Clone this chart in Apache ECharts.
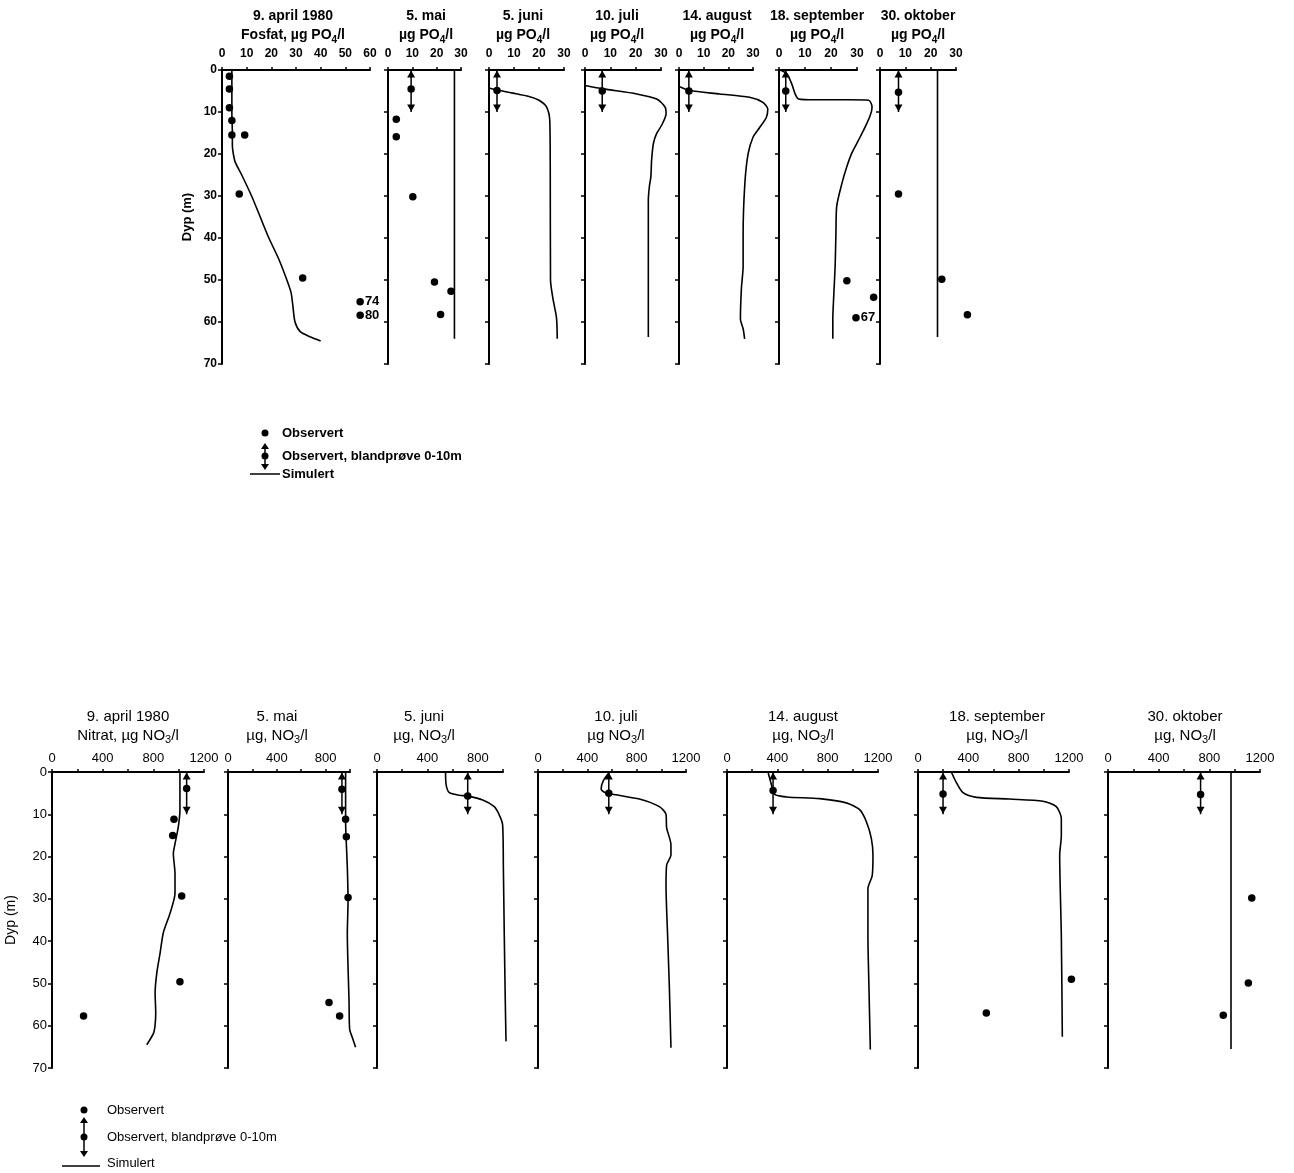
<!DOCTYPE html>
<html><head><meta charset="utf-8">
<script src="https://cdn.jsdelivr.net/npm/echarts@6/dist/echarts.min.js"></script>
<style>html,body{margin:0;padding:0;background:#fff}#c{width:1294px;height:1173px}</style>
</head><body><div id="c"></div><script>
// ---------------- DATA ----------------
const depthTicks = [0, 10, 20, 30, 40, 50, 60, 70];

// Fosfat (top row)
const phosDates = ['9. april 1980', '5. mai', '5. juni', '10. juli', '14. august', '18. september', '30. oktober'];
const phosUnitPrefix = ['Fosfat, µg PO', 'µg PO', 'µg PO', 'µg PO', 'µg PO', 'µg PO', 'µg PO'];
const phosXMax = [60, 30, 30, 30, 30, 30, 30];

const pAprSim = [[4,0],[4,5],[4,10],[4.2,15],[4.2,18],[4.6,20],[5.4,22],[8,25],[12,30],[15.5,35],[19,40],[23,45],[26.3,50],[28,53],[28.7,56],[29.6,60],[31.7,62.3],[35.7,63.5],[40,64.5]];
const pAprObs = [[3,1.5],[3,4.5],[3,9],[4,12],[4,15.5],[9.2,15.5],[7,29.5],[32.7,49.5]];
const pAprOff = [[56,55.2,'74'],[56,58.4,'80']];

const pMaiSim = [[27.3,0],[27.3,64]];
const pMaiObs = [[3.4,11.7],[3.4,15.9],[10.2,30.2],[19.1,50.5],[25.9,52.7],[21.6,58.2]];

const pJunSim = [[0,4.3],[4.3,4.9],[9.6,5.5],[16,6.3],[20,7.2],[23,8.8],[24.3,12],[24.5,23],[24.6,50],[25.6,54.5],[27,59],[27.3,64]];
const pJunObs = [];

const pJulSim = [[0,3.7],[7.2,4.5],[20.4,5.7],[28.3,6.9],[31.6,8.8],[32,10.4],[30.3,13.1],[28.3,15.1],[27,17.5],[26.3,21.4],[26,25.4],[25.4,27.8],[25,31],[25,45],[25,63.6]];
const pJulObs = [];

const pAugSim = [[0,3.9],[4.3,4.9],[16.5,5.7],[28.6,6.5],[34,7.7],[36,9.3],[35.4,11.3],[32.7,13.7],[30,16],[28,20],[26.7,27],[26,38.8],[26,46.7],[25.3,52],[24.9,59.3],[26,61.6],[26.6,64]];
const pAugObs = [];

const pSepSim = [[0.4,0],[3,0.9],[4.9,3.3],[6.2,5.7],[7.5,6.9],[13.9,7.1],[26.8,7.1],[34.5,7.2],[35.8,8.8],[35.1,10.8],[33.2,13.5],[30.6,16.7],[28,19.8],[26.1,23],[24.2,27],[22.2,32.4],[21.9,38.7],[21.6,46.6],[21,54.5],[20.7,59.2],[20.7,64]];
const pSepObs = [[26.1,50.2],[36.4,54.1]];
const pSepOff = [[29.6,59,'67']];

const pOktSim = [[22.7,0],[22.7,63.6]];
const pOktObs = [[7.3,29.5],[24.4,49.8],[34.5,58.3]];

// blandprøve 0-10 m: [value, depth of dot]
const phosMix = [null, [9.5,4.5], [3.2,4.9], [6.8,5], [4,5], [2.6,5], [7.3,5.3]];

// Nitrat (bottom row)
const nitDates = ['9. april 1980', '5. mai', '5. juni', '10. juli', '14. august', '18. september', '30. oktober'];
const nitUnitPrefix = ['Nitrat, µg NO', 'µg, NO', 'µg, NO', 'µg NO', 'µg, NO', 'µg, NO', 'µg, NO'];
const nitXMax = [1200, 1000, 1000, 1200, 1200, 1200, 1200];

const nAprSim = [[1010,0],[1010,9],[997,13],[971,17],[958,19.3],[971,24],[971,28.7],[932,33.4],[879,38],[853,42.9],[827,47.6],[814,52.3],[819,57],[814,59.8],[801,61.8],[748,64.5]];
const nAprObs = [[963,11.2],[953,15],[1024,29.3],[1010,49.6],[249,57.7]];

const nMaiSim = [[964,0],[964,11.4],[978,22.5],[984,30.4],[978,38.3],[984,46.2],[992,54],[997,60.8],[1019,62.8],[1046,65.1]];
const nMaiObs = [[964,11.2],[970,15.3],[984,29.7],[828,54.5],[915,57.7]];

const nJunSim = [[544,0],[549,3.1],[575,4.9],[654,5.5],[720,5.7],[839,6.6],[931,8.2],[971,10.2],[997,12.5],[1003,22.7],[1010,38.3],[1018,54],[1024,63.7]];
const nJunObs = [];

const nJulSim = [[580,0],[531,2],[512,4],[539,4.8],[633,5.4],[822,6.4],[984,8.2],[1038,10],[1043,13.2],[1078,17.2],[1078,19.6],[1043,22],[1038,26.8],[1051,38.8],[1065,50.8],[1078,65.2]];
const nJulObs = [];

const nAugSim = [[326,0],[352,2.9],[379,5.3],[472,5.9],[736,6.3],[948,7.3],[1054,8.9],[1107,11.7],[1147,15.7],[1160,19.7],[1154,24.5],[1120,27.6],[1120,38.8],[1128,50.8],[1139,65.6]];
const nAugObs = [];

const nSepSim = [[265,0],[305,2.5],[358,4.9],[464,6],[728,6.4],[993,6.9],[1099,8.2],[1139,11],[1139,15],[1126,19.7],[1139,38.6],[1147,62.6]];
const nSepObs = [[1219,49],[543,57]];

const nOktSim = [[971,0],[971,65.5]];
const nOktObs = [[1135,29.8],[1108,49.9],[910,57.5]];

const nitMix = [[1063,3.9],[934,4.1],[720,5.7],[574,5],[366,4.4],[199,5.2],[731,5.3]];

const phosSim = [pAprSim, pMaiSim, pJunSim, pJulSim, pAugSim, pSepSim, pOktSim];
const phosObs = [pAprObs, pMaiObs, pJunObs, pJulObs, pAugObs, pSepObs, pOktObs];
const phosOff = [pAprOff, null, null, null, null, pSepOff, null];
const nitSim = [nAprSim, nMaiSim, nJunSim, nJulSim, nAugSim, nSepSim, nOktSim];
const nitObs = [nAprObs, nMaiObs, nJunObs, nJulObs, nAugObs, nSepObs, nOktObs];

// ---------------- LAYOUT ----------------
const FONT = "'Liberation Sans', Arial, Helvetica, sans-serif";
const INK = '#000';
const rows = [
  { dates: phosDates, units: phosUnitPrefix, sub: '4', xmax: phosXMax, sim: phosSim, obs: phosObs, off: phosOff, mix: phosMix,
    over: 1.3, interval: 10, labelEvery: 10, top: 70, height: 294,
    lefts: [222, 388, 489, 585, 679, 779, 880], widths: [148, 73, 75, 76, 74, 78, 76],
    titleX: [293, 426, 523, 617, 717, 817, 918], titleTop: 7,
    weight: 'bold', titleSize: 14, tickSize: 12, xMargin: 10, nameGap: 28 },
  { dates: nitDates, units: nitUnitPrefix, sub: '3', xmax: nitXMax, sim: nitSim, obs: nitObs, off: [null,null,null,null,null,null,null], mix: nitMix,
    over: 1.1, interval: 200, labelEvery: 400, top: 772, height: 296,
    lefts: [52, 228, 377, 538, 727, 918, 1108], widths: [152, 122, 126, 148, 151, 151, 152],
    titleX: [128, 277, 424, 616, 803, 997, 1185], titleTop: 707,
    weight: 'normal', titleSize: 15, tickSize: 13, xMargin: 7, nameGap: 34 }
];

const grids = [], xAxes = [], yAxes = [], series = [], titles = [];
let g = 0;
rows.forEach(r => {
  for (let i = 0; i < 7; i++) {
    const every = r.labelEvery;
    // visible frame grid (axes)
    const ga = g++;
    grids.push({ left: r.lefts[i], top: r.top, width: r.widths[i], height: r.height, containLabel: false });
    xAxes.push({
      gridIndex: ga, type: 'value', position: 'top', min: 0, max: r.xmax[i], interval: r.interval,
      axisLine: { show: true, onZero: false, lineStyle: { color: INK, width: 2 } },
      axisTick: { show: true, inside: false, length: 3, lineStyle: { color: INK, width: 1.5 } },
      axisLabel: { show: true, margin: r.xMargin, color: INK, fontFamily: FONT, fontSize: r.tickSize, fontWeight: r.weight,
        formatter: v => (v % every === 0 ? String(v) : '') },
      splitLine: { show: false }
    });
    yAxes.push({
      gridIndex: ga, type: 'value', inverse: true, min: depthTicks[0], max: depthTicks[depthTicks.length - 1], interval: 10,
      axisLine: { show: true, onZero: false, lineStyle: { color: INK, width: 2 } },
      axisTick: { show: true, inside: false, length: 4, lineStyle: { color: INK, width: 1.5 } },
      axisLabel: { show: i === 0, margin: 5, color: INK, fontFamily: FONT, fontSize: r.tickSize, fontWeight: r.weight },
      splitLine: { show: false },
      name: i === 0 ? 'Dyp (m)' : '', nameLocation: 'middle', nameRotate: 90, nameGap: r.nameGap,
      nameTextStyle: { color: INK, fontFamily: FONT, fontSize: r.tickSize + 1, fontWeight: r.weight }
    });
    // data grid: same px-per-unit scale, wider extent so curves may run past the drawn axis end
    const gb = g++;
    grids.push({ left: r.lefts[i], top: r.top, width: r.widths[i] * r.over, height: r.height, containLabel: false });
    xAxes.push({ gridIndex: gb, type: 'value', min: 0, max: r.xmax[i] * r.over, show: false });
    yAxes.push({ gridIndex: gb, type: 'value', inverse: true, min: depthTicks[0], max: depthTicks[depthTicks.length - 1], show: false });

    titles.push({
      text: '{a|' + r.dates[i] + '}\n{a|' + r.units[i] + '}{s|' + r.sub + '}{a|/l}',
      left: r.titleX[i], top: r.titleTop, textAlign: 'center', padding: 0,
      textStyle: { rich: {
        a: { fontFamily: FONT, fontSize: r.titleSize, fontWeight: r.weight, color: INK, lineHeight: 19 },
        s: { fontFamily: FONT, fontSize: r.titleSize - 4, fontWeight: r.weight, color: INK, lineHeight: 19, verticalAlign: 'bottom' }
      } }
    });
    // Simulert
    series.push({ type: 'line', name: 'Simulert', xAxisIndex: gb, yAxisIndex: gb, data: r.sim[i],
      showSymbol: false, symbol: 'none', smooth: 0.25, clip: false,
      lineStyle: { color: INK, width: 1.6 } });
    // Observert
    if (r.obs[i].length) series.push({ type: 'scatter', name: 'Observert', xAxisIndex: gb, yAxisIndex: gb,
      data: r.obs[i], symbolSize: 7.5, clip: false, itemStyle: { color: INK, opacity: 1 } });
    if (r.off[i]) series.push({ type: 'scatter', name: 'Observert', xAxisIndex: gb, yAxisIndex: gb, clip: false,
      symbolSize: 7.5, itemStyle: { color: INK, opacity: 1 },
      data: r.off[i].map(o => ({ value: [o[0], o[1]],
        label: { show: true, position: 'right', distance: 1, formatter: o[2], color: INK, fontFamily: FONT, fontSize: 13, fontWeight: r.weight } })) });
    // blandprøve 0-10 m
    const m = r.mix[i];
    if (m) {
      series.push({ type: 'line', name: 'Observert, blandprøve 0-10m', xAxisIndex: gb, yAxisIndex: gb, clip: false,
        symbolSize: [8, 7], showSymbol: true, lineStyle: { color: INK, width: 1.5 }, itemStyle: { color: INK, opacity: 1 },
        data: [
          { value: [m[0], 0], symbol: 'triangle', symbolRotate: 0, symbolOffset: [0, 4] },
          { value: [m[0], 10], symbol: 'triangle', symbolRotate: 180, symbolOffset: [0, -4] }
        ] });
      series.push({ type: 'scatter', name: 'Observert, blandprøve 0-10m', xAxisIndex: gb, yAxisIndex: gb, clip: false,
        data: [[m[0], m[1]]], symbolSize: 7.5, itemStyle: { color: INK, opacity: 1 } });
    }
  }
});

// ---------------- LEGENDS (keys) ----------------
function legendGroup(x, yDot, yMixTop, yMixDot, yMixBot, yLine, lineX0, lineX1, textX, yLineText, weight) {
  const ts = { fill: INK, font: (weight === 'bold' ? 'bold ' : '') + '13px ' + FONT, textVerticalAlign: 'middle', verticalAlign: 'middle' };
  return [
    { type: 'circle', shape: { cx: x, cy: yDot, r: 3.5 }, style: { fill: INK } },
    { type: 'text', x: textX, y: yDot, style: Object.assign({ text: 'Observert' }, ts) },
    { type: 'line', shape: { x1: x, y1: yMixTop + 4, x2: x, y2: yMixBot - 4 }, style: { stroke: INK, lineWidth: 1.5 } },
    { type: 'polygon', shape: { points: [[x - 4, yMixTop + 6], [x + 4, yMixTop + 6], [x, yMixTop]] }, style: { fill: INK } },
    { type: 'polygon', shape: { points: [[x - 4, yMixBot - 6], [x + 4, yMixBot - 6], [x, yMixBot]] }, style: { fill: INK } },
    { type: 'circle', shape: { cx: x, cy: yMixDot, r: 3.5 }, style: { fill: INK } },
    { type: 'text', x: textX, y: yMixDot, style: Object.assign({ text: 'Observert, blandprøve 0-10m' }, ts) },
    { type: 'line', shape: { x1: lineX0, y1: yLine, x2: lineX1, y2: yLine }, style: { stroke: INK, lineWidth: 1.5 } },
    { type: 'text', x: textX, y: yLineText, style: Object.assign({ text: 'Simulert' }, ts) }
  ];
}
const graphics = [].concat(
  legendGroup(265, 433, 443, 456, 470, 474, 250, 280, 282, 474, 'bold'),
  legendGroup(84, 1110, 1117, 1137, 1157, 1166, 62, 100, 107, 1163, 'normal')
);

const chart = echarts.init(document.getElementById('c'), null, { renderer: 'canvas' });
chart.setOption({
  animation: false,
  backgroundColor: '#fff',
  title: titles,
  grid: grids,
  xAxis: xAxes,
  yAxis: yAxes,
  series: series,
  graphic: graphics
});
</script></body></html>
